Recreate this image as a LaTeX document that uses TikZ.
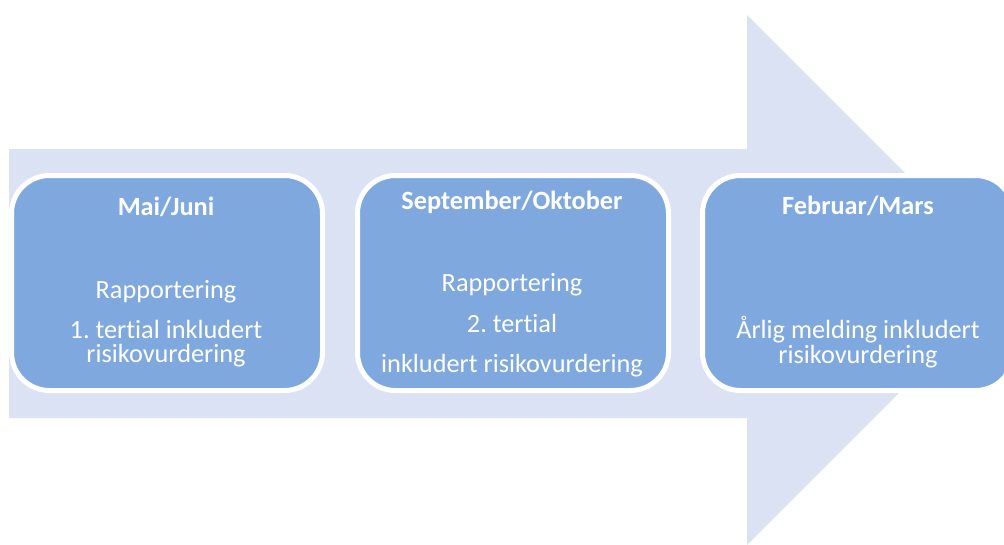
\documentclass[tikz,border=0pt]{standalone}
\usepackage{fontspec}
\setmainfont{Carlito}[Ligatures={NoCommon}]
\frenchspacing
\definecolor{arrowfill}{RGB}{218,226,243}
\definecolor{boxfill}{RGB}{127,168,223}
\begin{document}
\begin{tikzpicture}[x=1pt,y=-1pt,
  stagebox/.style={draw=white, line width=5pt, fill=boxfill, rounded corners=38pt,
    minimum width=311pt, minimum height=215pt, inner sep=0pt},
  title/.style={anchor=base, text=white, font=\fontsize{26.3}{30}\selectfont\bfseries, inner sep=0pt},
  body/.style={anchor=base, text=white, font=\fontsize{26.3}{30}\selectfont, inner sep=0pt}]
\useasboundingbox (0,0) rectangle (1004,544);
\clip (0,0) rectangle (1004,544);
\fill[arrowfill] (9,149) -- (747,149) -- (747,15) -- (1012,280) -- (747,545) -- (747,418) -- (9,418) -- cycle;
% boxes
\node[stagebox] (b1) at (167,283) {};
\node[stagebox] (b2) at (513,283) {};
\node[stagebox] (b3) at (858,283) {};
% box 1 text
\node[title] (b1t) at (166,215) {Mai/Juni};
\node[body] (b1a) at (166,298) {Rapportering};
\node[body] (b1b) at (166,338) {1.\ tertial inkludert};
\node[body] (b1c) at (166,362) {risikovurdering};
% box 2 text
\node[title] (b2t) at (512,209) {September/Oktober};
\node[body] (b2a) at (512,291) {Rapportering};
\node[body] (b2b) at (512,332) {2.\ tertial};
\node[body] (b2c) at (512,372) {inkludert risikovurdering};
% box 3 text
\node[title] (b3t) at (858,214) {Februar/Mars};
\node[body] (b3a) at (858,338) {Årlig melding inkludert};
\node[body] (b3b) at (858,363) {risikovurdering};
\end{tikzpicture}
\end{document}
